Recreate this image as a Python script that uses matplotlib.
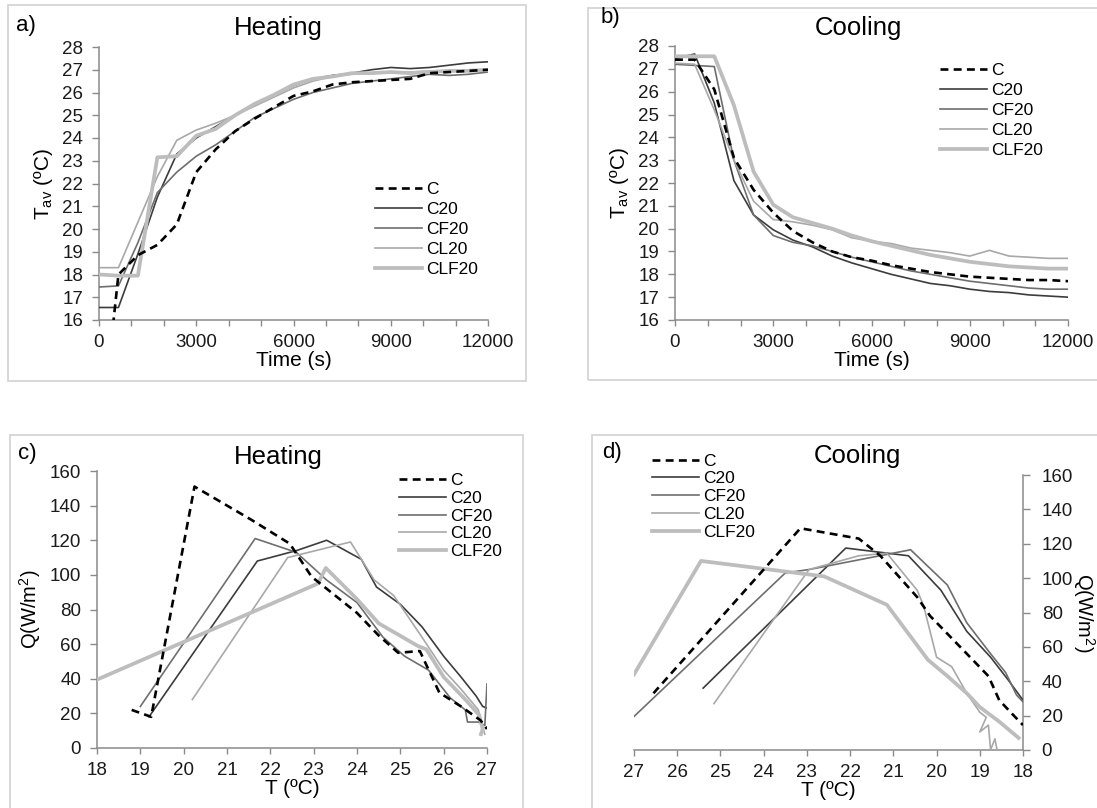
import matplotlib
matplotlib.use("Agg")
import matplotlib.pyplot as plt
from matplotlib.patches import Rectangle

plt.rcParams['font.family'] = ['Liberation Sans', 'DejaVu Sans']
plt.rcParams['mathtext.fontset'] = 'custom'
plt.rcParams['mathtext.rm'] = 'Liberation Sans'
plt.rcParams['mathtext.it'] = 'Liberation Sans:italic'
plt.rcParams['mathtext.default'] = 'regular'

series = ["C", "C20", "CF20", "CL20", "CLF20"]

# time axis for the heating / cooling runs (s)
time = [0, 600, 1200, 1800, 2400, 3000, 3600, 4200, 4800, 5400, 6000,
        6600, 7200, 7800, 8400, 9000, 9600, 10200, 10800, 11400, 12000]

# average temperature, heating
heat_C = [10.0, 18.0, 18.85, 19.3, 20.2, 22.5, 23.5, 24.3, 24.85, 25.35, 25.85,
          26.05, 26.35, 26.45, 26.5, 26.55, 26.6, 26.85, 26.9, 26.95, 27.0]
heat_C20 = [16.55, 16.55, 18.9, 21.4, 23.3, 24.0, 24.5, 25.0, 25.5, 25.9, 26.3,
            26.6, 26.75, 26.85, 27.0, 27.1, 27.05, 27.1, 27.2, 27.3, 27.35]
heat_CF20 = [17.45, 17.5, 19.4, 21.6, 22.5, 23.2, 23.7, 24.3, 24.9, 25.3, 25.7,
             26.0, 26.2, 26.4, 26.5, 26.6, 26.7, 26.8, 26.75, 26.8, 26.9]
heat_CL20 = [18.3, 18.3, 20.3, 22.3, 23.9, 24.35, 24.65, 25.0, 25.4, 25.8, 26.2,
             26.5, 26.7, 26.8, 26.85, 26.9, 26.9, 26.95, 26.95, 27.0, 27.0]
heat_CLF20 = [18.0, 17.95, 17.95, 23.15, 23.2, 24.1, 24.4, 25.0, 25.5, 25.9, 26.35,
              26.6, 26.7, 26.85, 26.85, 26.9, 26.85, 26.9, 26.95, 26.95, 27.0]

# average temperature, cooling
cool_C = [27.4, 27.4, 26.1, 23.1, 21.7, 20.7, 19.9, 19.4, 19.0, 18.75, 18.6,
          18.4, 18.25, 18.1, 18.0, 17.9, 17.85, 17.8, 17.75, 17.75, 17.7]
cool_C20 = [27.45, 27.65, 25.5, 22.1, 20.6, 19.95, 19.5, 19.2, 18.8, 18.5, 18.25,
            18.0, 17.8, 17.6, 17.5, 17.35, 17.25, 17.2, 17.1, 17.05, 17.0]
cool_CF20 = [27.2, 27.15, 27.1, 23.0, 20.6, 19.7, 19.4, 19.25, 19.0, 18.75, 18.55,
             18.35, 18.15, 18.0, 17.85, 17.7, 17.6, 17.5, 17.4, 17.35, 17.35]
cool_CL20 = [27.25, 27.2, 25.2, 23.0, 21.2, 20.4, 20.3, 20.15, 19.95, 19.6, 19.45,
             19.35, 19.15, 19.05, 18.95, 18.8, 19.05, 18.8, 18.75, 18.7, 18.7]
cool_CLF20 = [27.55, 27.55, 27.55, 25.4, 22.5, 21.05, 20.5, 20.25, 20.0, 19.7, 19.45,
              19.25, 19.05, 18.85, 18.7, 18.55, 18.45, 18.35, 18.3, 18.25, 18.25]

# heat flux vs temperature, heating
qh_C_T = [18.8, 19.25, 20.25, 21.55, 22.45, 22.95, 23.3, 24.0, 24.5, 24.95, 25.45, 25.9, 26.4, 26.85, 27.0]
qh_C_Q = [22, 18, 151, 132, 118, 99, 92, 78, 65, 55, 56, 32, 24, 16, 11]
qh_C20_T = [19.2, 21.7, 22.6, 23.3, 24.1, 24.45, 25.0, 25.5, 26.0, 26.4, 26.75, 26.9, 27.0]
qh_C20_Q = [18, 108, 114, 120, 109, 93, 83, 70, 53, 41, 30, 24, 23]
qh_CF20_T = [19.0, 21.65, 22.6, 23.3, 24.0, 24.6, 25.1, 25.65, 26.15, 26.5, 26.55, 26.8, 26.95, 27.0]
qh_CF20_Q = [24, 121, 113, 97, 84, 64, 53, 45, 29, 22, 15, 15, 13, 37]
qh_CL20_T = [20.2, 22.4, 23.85, 24.1, 24.4, 24.85, 25.5, 26.0, 26.4, 26.8, 26.9, 26.95]
qh_CL20_Q = [28, 110, 119, 109, 97, 88, 64, 45, 34, 22, 12, 8]
qh_CLF20_T = [18.0, 23.1, 23.28, 24.0, 24.5, 25.4, 25.6, 26.0, 26.5, 26.82, 26.9, 26.86]
qh_CLF20_Q = [39.5, 95, 104, 86, 72, 59, 57, 41, 28, 19, 11, 8]

# heat flux vs temperature, cooling
qc_C_T = [26.55, 23.15, 21.8, 21.3, 20.45, 20.15, 19.3, 18.8, 18.55, 18.25, 18.0]
qc_C_Q = [33, 129, 123, 113, 89, 78, 56, 43, 29, 21, 14.5]
qc_C20_T = [25.4, 22.1, 20.65, 19.9, 19.3, 18.75, 18.35, 18.0]
qc_C20_Q = [36, 117.5, 113, 93, 69, 54, 41, 29]
qc_CF20_T = [27.0, 23.5, 22.95, 20.6, 19.75, 19.3, 18.75, 18.4, 18.15, 18.0]
qc_CF20_Q = [19.5, 103, 105, 116.5, 96, 74, 56, 45, 32, 28]
qc_CL20_T = [25.15, 22.95, 21.8, 21.15, 20.45, 20.3, 20.0, 19.65, 19.3, 19.0, 18.85,
             19.0, 18.8, 18.75, 18.65, 18.6]
qc_CL20_Q = [27, 105, 113, 114.5, 93, 84, 54, 48.5, 33, 22, 19, 10.5, 14.5, 0, 6.5, 0]
qc_CLF20_T = [27.0, 25.45, 22.6, 21.15, 20.2, 19.75, 19.3, 19.0, 18.55, 18.1]
qc_CLF20_Q = [44, 110, 101, 84.5, 52.5, 43, 33, 25, 16.5, 7]

styles = {
    "C":     dict(color="black", lw=1.9, ls=(0, (3, 2)), zorder=5),
    "C20":   dict(color="#3c3c3c", lw=1.2, ls="-", zorder=3),
    "CF20":  dict(color="#6e6e6e", lw=1.2, ls="-", zorder=3),
    "CL20":  dict(color="#a8a8a8", lw=1.2, ls="-", zorder=3),
    "CLF20": dict(color="#bdbdbd", lw=2.7, ls="-", zorder=4),
}

W, H = 1097, 808
fig = plt.figure(figsize=(W / 100, H / 100), dpi=100)
fig.patch.set_facecolor("white")


def px_axes(left, right, top, bottom):
    return fig.add_axes([left / W, 1 - bottom / H, (right - left) / W, (bottom - top) / H])


def frame(x0, y0, x1, y1):
    fig.patches.append(Rectangle((x0 / W, 1 - y1 / H), (x1 - x0) / W, (y1 - y0) / H,
                                 transform=fig.transFigure, fill=False,
                                 edgecolor="#d2d2d2", lw=1.2))


def style(ax, right=False):
    for s in ax.spines.values():
        s.set_visible(False)
    keep = ["right", "bottom"] if right else ["left", "bottom"]
    for s in keep:
        ax.spines[s].set_visible(True)
        ax.spines[s].set_color("#8a8a8a")
        ax.spines[s].set_linewidth(1.1)
    ax.tick_params(axis="y", direction="out", length=5, width=1.0, color="#8a8a8a",
                   labelsize=13.5, pad=6.5 if not right else 8.5, labelcolor="#1a1a1a")
    ax.tick_params(axis="x", direction="out", length=4, width=1.0, color="#8a8a8a",
                   labelsize=13.5, pad=6, labelcolor="#1a1a1a")
    if right:
        ax.yaxis.tick_right()
        ax.yaxis.set_label_position("right")


def draw(ax, xs, ys):
    for name, x, y in zip(series, xs, ys):
        ax.plot(x, y, label=name, **styles[name])


def legend(ax, x, y, spacing):
    ax.legend(loc="upper left", bbox_to_anchor=(x, y), frameon=False, fontsize=12.5,
              handlelength=2.7, handletextpad=0.25, labelspacing=spacing,
              borderpad=0, borderaxespad=0)


time_ticks = [0, 1000, 2000, 3000, 4000, 5000, 6000, 7000, 8000, 9000, 10000, 11000, 12000]
time_labels = [str(t) if t % 3000 == 0 else "" for t in time_ticks]

# a) heating, temperature vs time
frame(8, 5, 526, 381)
ax = px_axes(99, 488, 47, 320)
style(ax)
draw(ax, [time] * 5, [heat_C, heat_C20, heat_CF20, heat_CL20, heat_CLF20])
ax.set_xlim(0, 12000)
ax.set_ylim(16, 28)
ax.set_yticks(range(16, 29))
ax.set_xticks(time_ticks)
ax.set_xticklabels(time_labels)
ax.set_xlabel("Time (s)", fontsize=15, labelpad=0)
ax.set_ylabel("T$_{av}$ (ºC)", fontsize=15, labelpad=5)
ax.text(0.46, 1.07, "Heating", transform=ax.transAxes, ha="center", va="center", fontsize=18.5)
fig.text(16 / W, 1 - 25 / H, "a)", fontsize=16, va="center")
legend(ax, 0.71, 0.505, 0.28)

# b) cooling, temperature vs time
frame(588, 8, 1100, 380)
ax = px_axes(675, 1068, 46, 320)
style(ax)
draw(ax, [time] * 5, [cool_C, cool_C20, cool_CF20, cool_CL20, cool_CLF20])
ax.set_xlim(0, 12000)
ax.set_ylim(16, 28)
ax.set_yticks(range(16, 29))
ax.set_xticks(time_ticks)
ax.set_xticklabels(time_labels)
ax.set_xlabel("Time (s)", fontsize=15, labelpad=0)
ax.set_ylabel("T$_{av}$ (ºC)", fontsize=15, labelpad=5)
ax.text(0.466, 1.065, "Cooling", transform=ax.transAxes, ha="center", va="center", fontsize=18.5)
fig.text(601 / W, 1 - 18 / H, "b)", fontsize=16, va="center")
legend(ax, 0.674, 0.937, 0.28)

# c) heating, heat flux vs temperature
frame(10, 435, 523, 812)
ax = px_axes(97, 487, 471, 748)
style(ax)
draw(ax, [qh_C_T, qh_C20_T, qh_CF20_T, qh_CL20_T, qh_CLF20_T],
     [qh_C_Q, qh_C20_Q, qh_CF20_Q, qh_CL20_Q, qh_CLF20_Q])
ax.set_xlim(18, 27)
ax.set_ylim(0, 160)
ax.set_xticks(range(18, 28))
ax.set_yticks(range(0, 161, 20))
ax.set_xlabel("T (ºC)", fontsize=15, labelpad=0)
ax.set_ylabel("Q(W/m$^{2}$)", fontsize=14.5, labelpad=5)
ax.text(0.464, 1.05, "Heating", transform=ax.transAxes, ha="center", va="center", fontsize=18.5)
fig.text(18 / W, 1 - 453 / H, "c)", fontsize=16, va="center")
legend(ax, 0.774, 0.993, 0.15)

# d) cooling, heat flux vs temperature (reversed axis)
frame(592, 435, 1100, 812)
ax = px_axes(634, 1023, 475, 750)
style(ax, right=True)
draw(ax, [qc_C_T, qc_C20_T, qc_CF20_T, qc_CL20_T, qc_CLF20_T],
     [qc_C_Q, qc_C20_Q, qc_CF20_Q, qc_CL20_Q, qc_CLF20_Q])
ax.set_xlim(27, 18)
ax.set_ylim(0, 160)
ax.set_xticks(range(18, 28))
ax.set_yticks(range(0, 161, 20))
ax.set_xlabel("T (ºC)", fontsize=15, labelpad=0)
ax.set_ylabel("Q(W/m$^{2}$)", fontsize=14.5, rotation=270, labelpad=17)
ax.text(0.574, 1.07, "Cooling", transform=ax.transAxes, ha="center", va="center", fontsize=18.5)
fig.text(602 / W, 1 - 452 / H, "d)", fontsize=16, va="center")
legend(ax, 0.046, 1.078, 0.15)

fig.savefig("out.png", dpi=100)
